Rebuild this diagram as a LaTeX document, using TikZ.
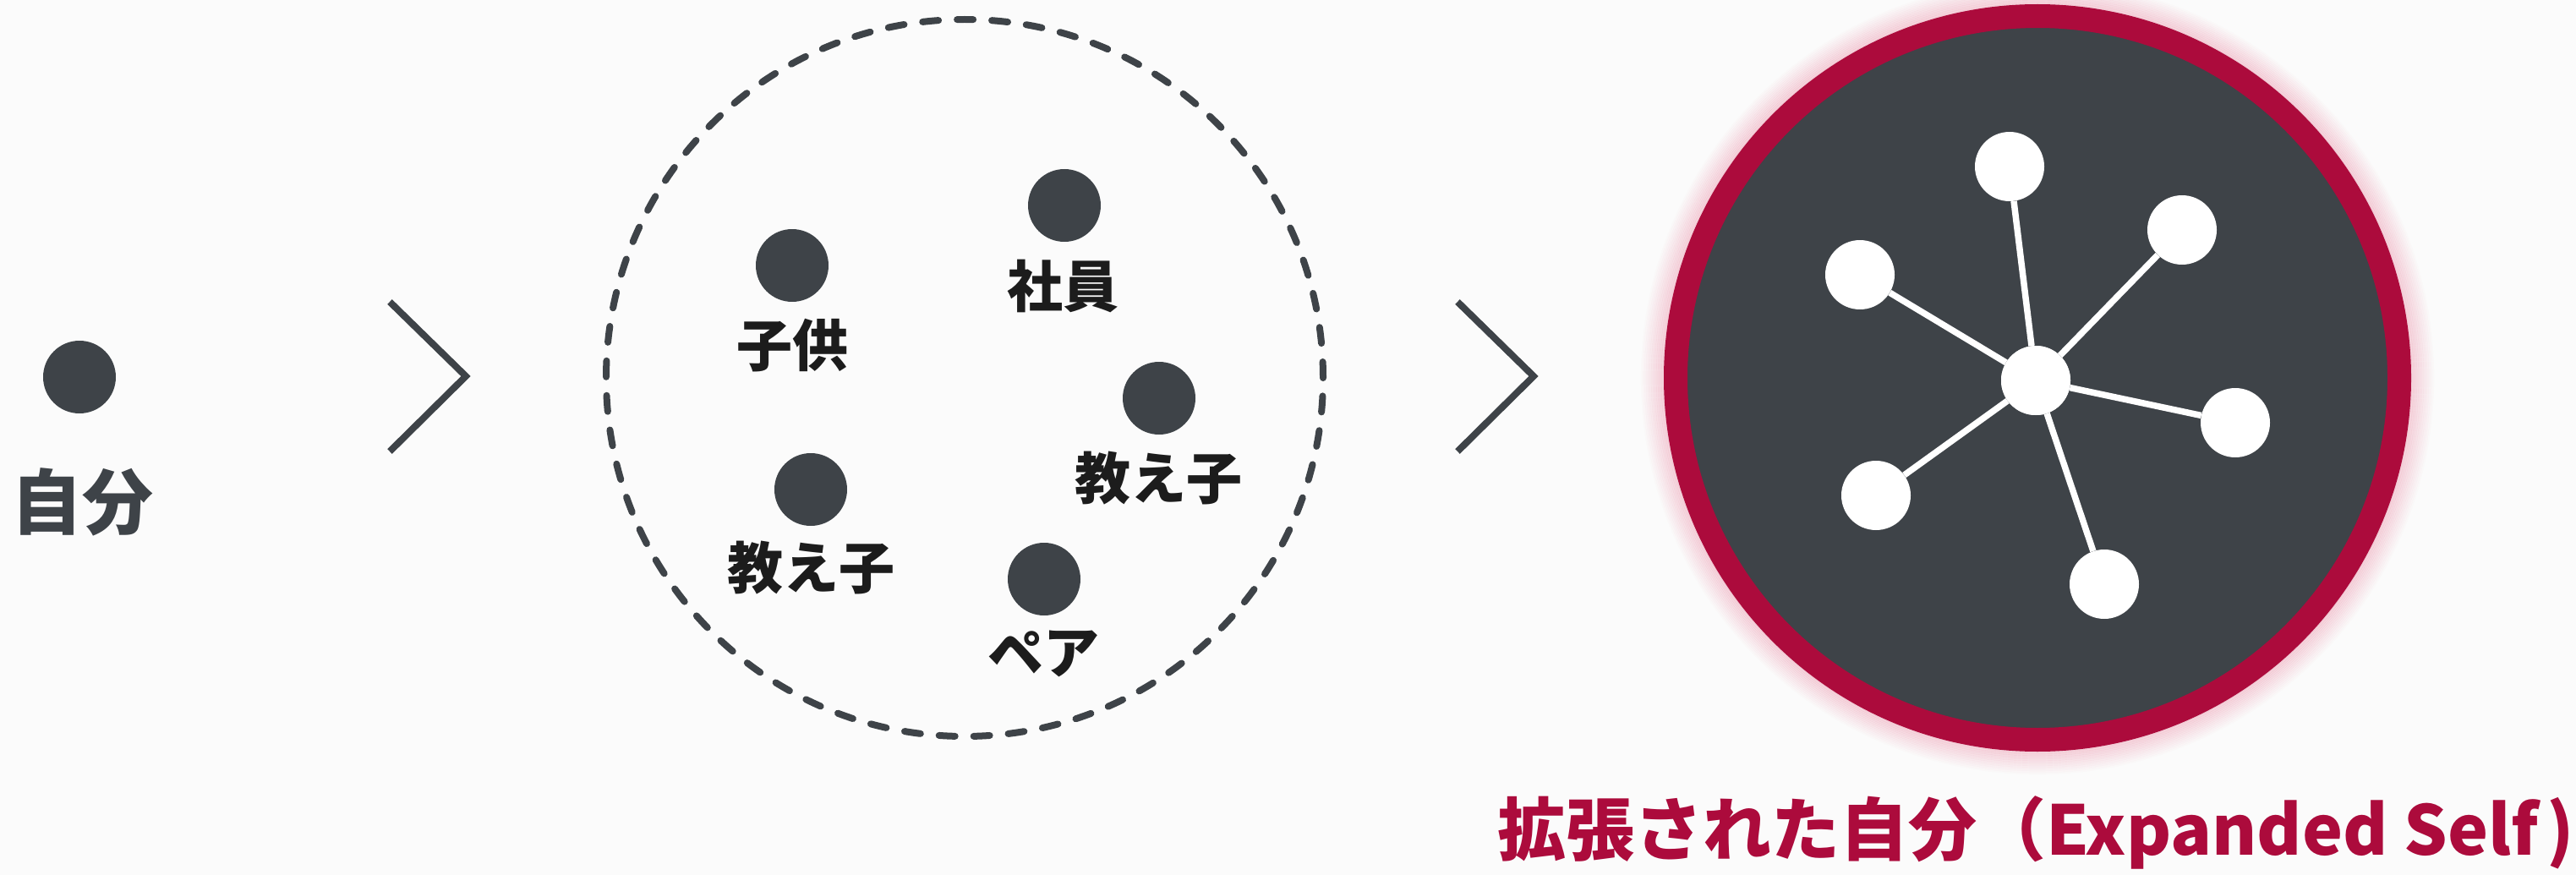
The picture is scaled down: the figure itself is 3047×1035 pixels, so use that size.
\documentclass[tikz,border=0pt]{standalone}
\usepackage{fontspec}
\newfontfamily\jp{Noto Sans CJK JP}
\definecolor{dotgray}{HTML}{3E4348}
\definecolor{txtblack}{HTML}{1C1C1C}
\definecolor{crimson}{HTML}{AC0B3C}
\definecolor{glow}{HTML}{E0456E}
\definecolor{bg}{HTML}{FBFBFB}
\tikzset{
  dot/.style={circle, fill=dotgray, inner sep=0pt, minimum size=86pt},
  lbl/.style={font=\jp\bfseries\fontsize{66}{72}\selectfont, text=txtblack, inner sep=0pt},
  sat/.style={circle, fill=white, inner sep=0pt, minimum size=82pt},
  spoke/.style={draw=white, line width=7.5pt},
  chev/.style={draw=dotgray, line width=8pt, line cap=butt, line join=miter},
  ttl/.style={font=\jp\bfseries\fontsize{81}{90}\selectfont, text=crimson, inner sep=0pt},
}
\begin{document}
\begin{tikzpicture}[x=1pt, y=-1pt]
\fill[bg] (0,0) rectangle (3047,1035);
\useasboundingbox (0,0) rectangle (3047,1035);
% stage 1
\node[dot] (self) at (94,446) {};
\node[lbl, font=\jp\bfseries\fontsize{84}{90}\selectfont, text=dotgray] (selfl) at (97,594) {自分};
% chevron 1
\coordinate (c1a) at (461,357);
\coordinate (c1b) at (551,445);
\coordinate (c1c) at (461,534);
\draw[chev] (c1a) -- (c1b) -- (c1c);
% stage 2
\node[circle, draw=dotgray, line width=8pt, line cap=round, dash pattern=on 19pt off 22pt, minimum size=848pt, inner sep=0pt] (group) at (1141,447) {};
\node[dot] (kodomo) at (937,314) {};
\node[lbl] (kodomol) at (937,409) {子供};
\node[dot] (shain) at (1259,243) {};
\node[lbl] (shainl) at (1257,339) {社員};
\node[dot] (oshiR) at (1371,471) {};
\node[lbl] (oshiRl) at (1370,566) {教え子};
\node[dot] (oshiL) at (959,579) {};
\node[lbl] (oshiLl) at (959,672) {教え子};
\node[dot] (pair) at (1235,685) {};
\node[lbl] (pairl) at (1234,773) {ペア};
% chevron 2
\coordinate (c2a) at (1724,357);
\coordinate (c2b) at (1814,445);
\coordinate (c2c) at (1724,534);
\draw[chev] (c2a) -- (c2b) -- (c2c);
% stage 3 glow
\foreach \i in {1,...,14}{
  \draw[glow, line width=2.2pt, draw opacity={0.24*(1-\i/15)}] (2410,447) circle ({440+2*\i});
}
\node[circle, draw=crimson, line width=28pt, fill=dotgray, minimum size=856pt, inner sep=0pt] (big) at (2410,447) {};
\node[sat] (hub) at (2408,450) {};
\node[sat] (s1) at (2377,197) {};
\node[sat] (s2) at (2581,272) {};
\node[sat] (s3) at (2644,500) {};
\node[sat] (s4) at (2489,691) {};
\node[sat] (s5) at (2219,586) {};
\node[sat] (s6) at (2200,325) {};
\foreach \s in {s1,s2,s3,s4,s5,s6}{
  \draw[spoke] (hub) -- (\s);
}
\node[sat] at (hub) {};
\node[ttl, anchor=base east] (title2) at (3045,1011) {（Expanded Self\kern10pt)};
\node[ttl, anchor=base east] (title1) at (title2.base west) {拡張された自分};
\end{tikzpicture}
\end{document}
